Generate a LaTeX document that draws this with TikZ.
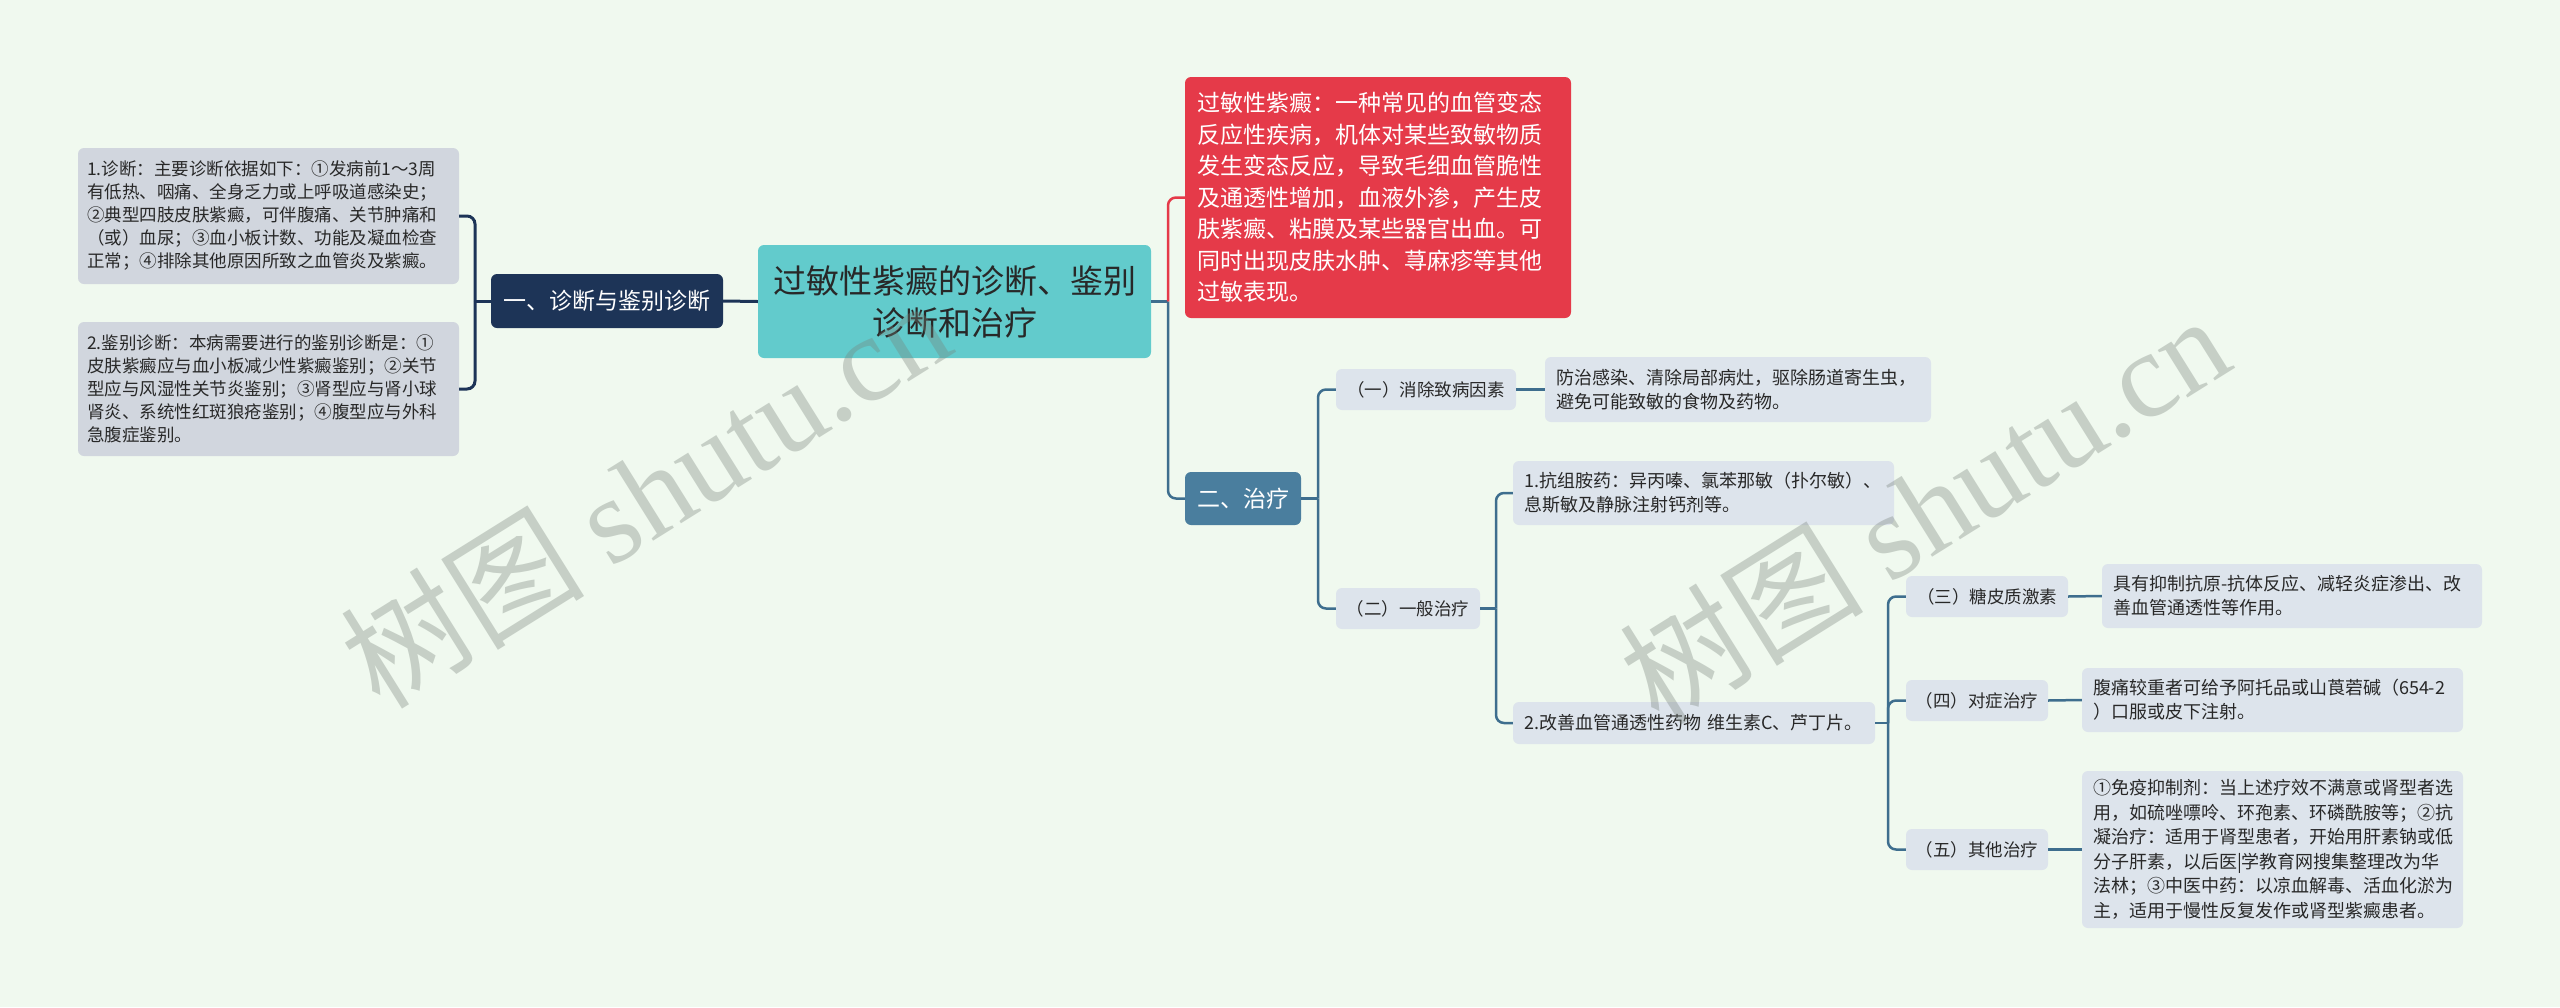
\documentclass[tikz,border=0pt]{standalone}
\usepackage{fontspec}
\setmainfont{Noto Sans CJK SC}
\newfontfamily\wmlatin{Liberation Serif}
\newfontfamily\wmcjk{Noto Sans CJK SC}
\definecolor{bgc}{RGB}{240,249,239}
\definecolor{tealc}{RGB}{98,203,204}
\definecolor{redc}{RGB}{229,58,73}
\definecolor{navy}{RGB}{29,52,87}
\definecolor{steel}{RGB}{74,126,158}
\definecolor{linkc}{RGB}{62,110,142}
\definecolor{lgray}{RGB}{209,214,222}
\definecolor{lblue}{RGB}{221,228,236}
\definecolor{txt}{RGB}{40,40,40}
\definecolor{wmc}{RGB}{120,130,122}
\begin{document}
\begin{tikzpicture}[x=1pt,y=-1pt,
  every node/.style={inner sep=0pt, rounded corners=6pt, text=txt},
  lbox/.style={fill=lgray, font=\fontsize{17.5}{23}\selectfont, align=left, inner xsep=9pt},
  rbox/.style={fill=lblue, font=\fontsize{18}{24}\selectfont, align=left, inner xsep=11pt},
  cat/.style={fill=lblue, font=\fontsize{17.5}{22}\selectfont, align=center, minimum height=41pt},
  mainbox/.style={text=white, font=\fontsize{23}{28}\selectfont, align=center},
  navyline/.style={draw=navy, line width=3pt, rounded corners=8pt},
  redline/.style={draw=redc, line width=2.5pt, rounded corners=8pt},
  blueline/.style={draw=linkc, line width=2.5pt, rounded corners=8pt},
  wm/.style={rotate=32, text=wmc, text opacity=0.35, font=\fontsize{122}{122}\selectfont, rounded corners=0pt}
]
\fill[bgc] (0,0) rectangle (2560,1007);
\useasboundingbox (0,0) rectangle (2560,1007);

% left side
\node[lbox, text width=363pt, minimum height=136pt] (L1) at (268.5,216)
 {1.诊断：主要诊断依据如下：①发病前1～3周\\有低热、咽痛、全身乏力或上呼吸道感染史；\\②典型四肢皮肤紫癜，可伴腹痛、关节肿痛和\\（或）血尿；③血小板计数、功能及凝血检查\\正常；④排除其他原因所致之血管炎及紫癜。};
\node[lbox, text width=363pt, minimum height=134pt] (L2) at (268.5,389)
 {2.鉴别诊断：本病需要进行的鉴别诊断是：①\\皮肤紫癜应与血小板减少性紫癜鉴别；②关节\\型应与风湿性关节炎鉴别；③肾型应与肾小球\\肾炎、系统性红斑狼疮鉴别；④腹型应与外科\\急腹症鉴别。};
\node[mainbox, fill=navy, minimum width=232pt, minimum height=54pt] (one) at (607,301) {一、诊断与鉴别诊断};

% centre
\node[fill=tealc, minimum width=393pt, minimum height=113pt, align=center, font=\fontsize{33}{42}\selectfont] (C) at (954.5,301.5)
 {过敏性紫癜的诊断、鉴别\\诊断和治疗};

% right side
\node[fill=redc, text=white, align=left, text width=362pt, inner xsep=12pt, minimum height=241pt, font=\fontsize{23}{31.5}\selectfont] (R) at (1378,197.5)
 {过敏性紫癜：一种常见的血管变态\\反应性疾病，机体对某些致敏物质\\发生变态反应，导致毛细血管脆性\\及通透性增加，血液外渗，产生皮\\肤紫癜、粘膜及某些器官出血。可\\同时出现皮肤水肿、荨麻疹等其他\\过敏表现。};
\node[mainbox, fill=steel, minimum width=116pt, minimum height=53pt] (two) at (1243,498.5) {二、治疗};

\node[cat, minimum width=180pt] (c1) at (1426,389.5) {（一）消除致病因素};
\node[rbox, text width=364pt, minimum height=65pt] (d1) at (1738,389.5)
 {防治感染、清除局部病灶，驱除肠道寄生虫，\\避免可能致敏的食物及药物。};
\node[cat, minimum width=144pt] (c2) at (1408,608.5) {（二）一般治疗};
\node[rbox, text width=359pt, minimum height=64pt] (e1) at (1703.5,493)
 {1.抗组胺药：异丙嗪、氯苯那敏（扑尔敏）、\\息斯敏及静脉注射钙剂等。};
\node[rbox, text width=340pt, minimum height=42pt] (e2) at (1694,723)
 {2.改善血管通透性药物 维生素C、芦丁片。};

\node[cat, minimum width=162pt] (f3) at (1987,596.5) {（三）糖皮质激素};
\node[rbox, text width=358pt, minimum height=64pt] (g3) at (2292,596)
 {具有抑制抗原-抗体反应、减轻炎症渗出、改\\善血管通透性等作用。};
\node[cat, minimum width=142pt] (f4) at (1977,700.5) {（四）对症治疗};
\node[rbox, text width=359pt, minimum height=64pt] (g4) at (2272.5,700)
 {腹痛较重者可给予阿托品或山莨菪碱（654-2\\）口服或皮下注射。};
\node[cat, minimum width=142pt] (f5) at (1977,849.5) {（五）其他治疗};
\node[rbox, text width=359pt, minimum height=157pt, font=\fontsize{18}{24.5}\selectfont] (g5) at (2272.5,849.5)
 {①免疫抑制剂：当上述疗效不满意或肾型者选\\用，如硫唑嘌呤、环孢素、环磷酰胺等；②抗\\凝治疗：适用于肾型患者，开始用肝素钠或低\\分子肝素，以后医|学教育网搜集整理改为华\\法林；③中医中药：以凉血解毒、活血化淤为\\主，适用于慢性反复发作或肾型紫癜患者。};

% connectors
\coordinate (jL) at (475,301);
\draw[navyline] (C.west) -- (one.east);
\draw[navyline] (one.west) -- (jL);
\draw[navyline] (jL) |- (L1.east);
\draw[navyline] (jL) |- (L2.east);

\coordinate (jR) at (1168,301.5);
\draw[blueline] (C.east) -- (jR);
\draw[redline] (jR) |- (R.west);
\draw[blueline] (jR) |- (two.west);

\coordinate (j2) at (1318,498.5);
\draw[blueline] (two.east) -- (j2);
\draw[blueline] (j2) |- (c1.west);
\draw[blueline] (j2) |- (c2.west);
\draw[blueline] (c1.east) -- (d1.west);

\coordinate (j3) at (1496,608.5);
\draw[blueline] (c2.east) -- (j3);
\draw[blueline] (j3) |- (e1.west);
\draw[blueline] (j3) |- (e2.west);

\coordinate (j4) at (1888,723);
\draw[blueline] (e2.east) -- (j4);
\draw[blueline] (j4) |- (f3.west);
\draw[blueline] (j4) |- (f4.west);
\draw[blueline] (j4) |- (f5.west);
\draw[blueline] (f3.east) -- (g3.west);
\draw[blueline] (f4.east) -- (g4.west);
\draw[blueline] (f5.east) -- (g5.west);

% watermarks
\node[wm] (wm1) at (645,492) {{\wmcjk 树图} {\wmlatin shutu.cn}};
\node[wm] (wm2) at (1924,508) {{\wmcjk 树图} {\wmlatin shutu.cn}};
\end{tikzpicture}
\end{document}
